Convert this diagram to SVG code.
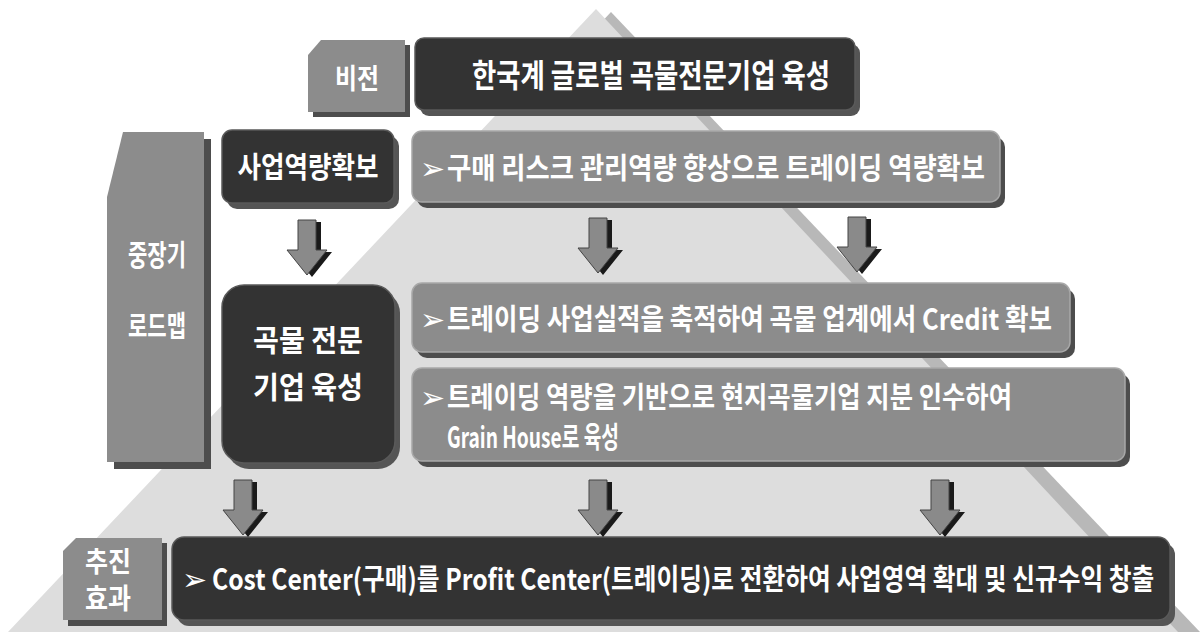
<svg xmlns="http://www.w3.org/2000/svg" width="1204" height="632" viewBox="0 0 1204 632">
<defs>
<style>
.t{font-family:"Noto Sans CJK KR","Noto Sans",sans-serif;font-weight:bold;fill:#ffffff;}
.dk{fill:#333333;stroke:#5a5a5a;stroke-width:1.5;}
.md{fill:#8c8c8c;stroke:#a8a8a8;stroke-width:1.5;}
.tab{fill:#8c8c8c;}
.sh{fill:#4d4d4d;}
.shd{fill:#555555;}
.bul{font-family:"DejaVu Sans",sans-serif;fill:#ffffff;font-weight:normal;}
</style>
<path id="arr" d="M-9,0 H9 V30 H20 L0,55 L-20,30 H-9 Z"/>
<g id="darrow">
<use href="#arr" x="5" y="2" fill="#1a1a1a"/>
<use href="#arr" fill="#8a8a8a" stroke="#444" stroke-width="1"/>
</g>
</defs>
<rect width="1204" height="632" fill="#ffffff"/>
<g id="pyramid">
<polygon points="611,12 1200,632 30,632" fill="#b8b8b8"/>
<polygon points="596,9 1178,632 8,632" fill="#dddddd"/>
</g>
<g id="vision-tab">
<path class="sh" d="M326,45 H410 V117 H313 V60 Z"/>
<path class="tab" d="M321,40 H405 V112 H308 V55 Z"/>
<text class="t" x="357" y="89" font-size="28" text-anchor="middle" textLength="44" lengthAdjust="spacingAndGlyphs">비전</text>
</g>
<g id="vision">
<rect class="shd" x="420" y="44" width="440" height="72" rx="9"/>
<rect class="dk" x="415" y="38" width="440" height="72" rx="9"/>
<text class="t" x="472" y="87" font-size="32" textLength="358" lengthAdjust="spacingAndGlyphs">한국계 글로벌 곡물전문기업 육성</text>
</g>
<g id="roadmap-tab">
<path class="sh" d="M130,139 H211 V469 H114 V204 Z"/>
<path class="tab" d="M123,132 H204 V462 H107 V197 Z"/>
<text class="t" x="157" y="266" font-size="29" text-anchor="middle" textLength="58" lengthAdjust="spacingAndGlyphs">중장기</text>
<text class="t" x="157" y="337" font-size="29" text-anchor="middle" textLength="58" lengthAdjust="spacingAndGlyphs">로드맵</text>
</g>
<g id="capability">
<rect class="shd" x="227" y="136" width="172" height="73" rx="10"/>
<rect class="dk" x="222" y="130" width="172" height="73" rx="10"/>
<text class="t" x="308" y="178" font-size="29" text-anchor="middle" textLength="141" lengthAdjust="spacingAndGlyphs">사업역량확보</text>
</g>
<g id="purchase-risk">
<rect class="sh" x="417" y="137" width="588" height="71" rx="10"/>
<rect class="md" x="412" y="131" width="588" height="71" rx="10"/>
<text class="bul" x="420" y="179" font-size="30">➢</text>
<text class="t" x="447" y="179" font-size="29" textLength="538" lengthAdjust="spacingAndGlyphs">구매 리스크 관리역량 향상으로 트레이딩 역량확보</text>
</g>
<g id="grain-company">
<rect class="shd" x="227" y="291" width="173" height="178" rx="22"/>
<rect class="dk" x="222" y="285" width="173" height="178" rx="22"/>
<text class="t" x="308" y="351" font-size="30" text-anchor="middle" textLength="110" lengthAdjust="spacingAndGlyphs">곡물 전문</text>
<text class="t" x="308" y="398" font-size="30" text-anchor="middle" textLength="110" lengthAdjust="spacingAndGlyphs">기업 육성</text>
</g>
<g id="credit">
<rect class="sh" x="417" y="289" width="658" height="69" rx="10"/>
<rect class="md" x="412" y="283" width="658" height="69" rx="10"/>
<text class="bul" x="420" y="330" font-size="30">➢</text>
<text class="t" x="447" y="330" font-size="29" textLength="605" lengthAdjust="spacingAndGlyphs">트레이딩 사업실적을 축적하여 곡물 업계에서 Credit 확보</text>
</g>
<g id="grain-house">
<rect class="sh" x="417" y="374" width="713" height="93" rx="10"/>
<rect class="md" x="412" y="368" width="713" height="93" rx="10"/>
<text class="bul" x="420" y="408" font-size="30">➢</text>
<text class="t" x="447" y="408" font-size="29" textLength="565" lengthAdjust="spacingAndGlyphs">트레이딩 역량을 기반으로 현지곡물기업 지분 인수하여</text>
<text class="t" x="447" y="448" font-size="29" textLength="172" lengthAdjust="spacingAndGlyphs">Grain House로 육성</text>
</g>
<g id="effect-tab">
<path class="sh" d="M81,543 H167 V626 H68 V556 Z"/>
<path class="tab" d="M76,538 H162 V620 H63 V551 Z"/>
<text class="t" x="108" y="572" font-size="28" text-anchor="middle" textLength="46" lengthAdjust="spacingAndGlyphs">추진</text>
<text class="t" x="108" y="609" font-size="28" text-anchor="middle" textLength="46" lengthAdjust="spacingAndGlyphs">효과</text>
</g>
<g id="effect">
<rect class="shd" x="177" y="543" width="998" height="83" rx="12"/>
<rect class="dk" x="172" y="537" width="998" height="83" rx="12"/>
<text class="bul" x="182" y="590" font-size="30">➢</text>
<g transform="translate(212,590) scale(0.78,1)">
<text class="t" x="0" y="0" font-size="29" textLength="1208" lengthAdjust="spacingAndGlyphs">Cost Center(구매)를 Profit Center(트레이딩)로 전환하여 사업영역 확대 및 신규수익 창출</text>
</g>
</g>
<g id="connectors">
<use href="#darrow" x="307" y="220"/>
<use href="#darrow" x="598" y="218"/>
<use href="#darrow" x="857" y="217"/>
<use href="#darrow" x="243" y="480"/>
<use href="#darrow" x="598" y="480"/>
<use href="#darrow" x="940" y="480"/>
</g>
</svg>
